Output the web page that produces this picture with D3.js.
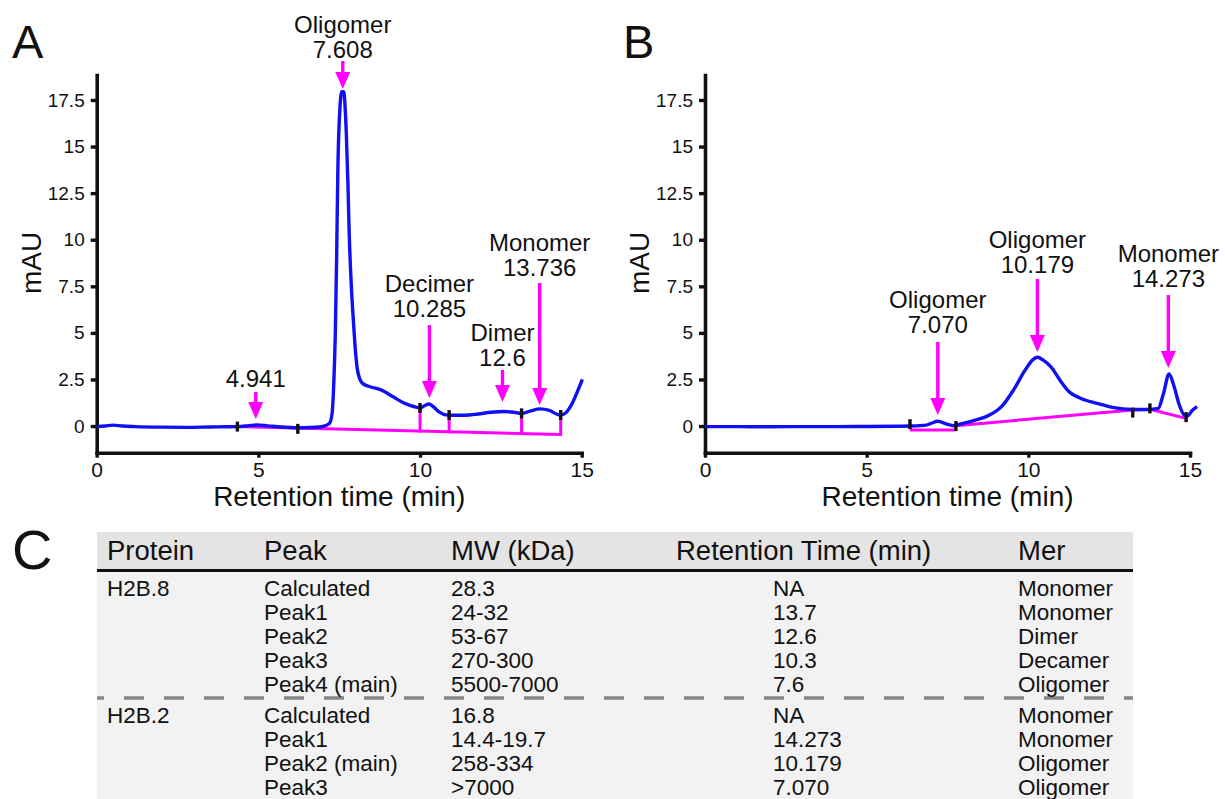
<!DOCTYPE html>
<html>
<head>
<meta charset="utf-8">
<script src="https://cdn.jsdelivr.net/npm/d3@7"></script>
<style>
  html, body { margin: 0; padding: 0; background: #fff; }
  svg { display: block; font-family: "Liberation Sans", Arial, sans-serif; }
</style>
</head>
<body>
<svg id="fig" width="1225" height="799"></svg>
<script>
// ---- panel A : H2B.8 chromatogram (time in min, signal in mAU)
const timeA = [0, 0.25, 0.5, 0.8, 1.2, 2.0, 2.8, 3.5, 4.0, 4.35, 4.7, 4.95, 5.3, 5.7, 6.2, 6.6, 6.95,
  7.1, 7.2, 7.28, 7.33, 7.38, 7.42, 7.46, 7.52, 7.58, 7.64, 7.68, 7.72, 7.77, 7.81, 7.87, 7.93, 7.99,
  8.05, 8.13, 8.22, 8.46, 8.81, 9.17, 9.52, 9.8, 10.0, 10.15, 10.28, 10.4, 10.6, 10.8, 10.95, 11.4,
  11.8, 12.2, 12.6, 12.9, 13.14, 13.4, 13.7, 14.0, 14.2, 14.35, 14.5, 14.7, 14.88, 15.02];
const mauA = [-0.03, 0.0, 0.05, 0.0, -0.03, -0.06, -0.07, -0.05, -0.04, -0.03, 0.02, 0.06, 0.01, -0.05, -0.09, -0.08, -0.04,
  0.04, 0.14, 0.68, 2.2, 4.97, 9.0, 13.9, 17.0, 17.95, 17.95, 17.2, 15.7, 13.0, 10.3, 7.7, 5.87, 4.3,
  3.18, 2.55, 2.29, 2.11, 1.93, 1.57, 1.22, 1.05, 0.97, 1.1, 1.18, 1.05, 0.75, 0.6, 0.58, 0.58,
  0.65, 0.74, 0.78, 0.74, 0.68, 0.8, 0.92, 0.84, 0.66, 0.59, 0.7, 1.2, 1.9, 2.5];
const baselineTimeA = [4.35, 14.35];
const baselineMauA = [-0.03, -0.45];
const dropTimeA = [10.0, 10.9, 13.14, 14.35];
const dropMauA = [0.97, 0.59, 0.68, 0.59];
const markTimeA = [4.35, 6.22, 10.0, 10.9, 13.14, 14.35];
const markMauA = [-0.03, -0.15, 0.97, 0.59, 0.68, 0.59];
const peakTimeA = [4.92, 7.61, 10.29, 12.55, 13.7];
const peakTextA = [["4.941"], ["Oligomer", "7.608"], ["Decimer", "10.285"], ["Dimer", "12.6"], ["Monomer", "13.736"]];
const labelMauA = [2.09, 19.75, 5.85, 3.22, 8.05];
const arrowTopA = [1.83, 19.59, 5.42, 3.01, 7.68];
const arrowTipA = [0.38, 18.09, 1.5, 1.29, 1.13];

// ---- panel B : H2B.2 chromatogram
const timeB = [0, 1, 2, 3, 4, 5, 6, 6.35, 6.84, 7.0, 7.2, 7.45, 7.7, 7.82, 8.31, 8.8, 9.17, 9.54, 9.9,
  10.15, 10.28, 10.46, 10.7, 11.01, 11.26, 11.63, 12.12, 12.6, 13.22, 13.71, 14.02, 14.18, 14.35,
  14.51, 14.67, 14.82, 14.92, 15.06, 15.22];
const mauB = [-0.03, -0.03, -0.04, -0.03, -0.03, -0.02, -0.01, 0.0, 0.05, 0.15, 0.26, 0.12, 0.02, 0.08, 0.29, 0.59, 1.04, 1.93, 3.0,
  3.58, 3.69, 3.54, 3.18, 2.38, 1.84, 1.48, 1.22, 1.0, 0.89, 0.89, 0.95, 1.75, 2.79,
  2.11, 1.13, 0.59, 0.54, 0.82, 1.04];
const flatTimeB = [6.34, 7.76];
const flatMauB = [-0.21, -0.21];
const baselineTimeB = [7.76, 13.23, 13.76, 14.88];
const baselineMauB = [0.02, 0.86, 0.9, 0.41];
const markTimeB = [6.34, 7.76, 13.23, 13.76, 14.88];
const markMauB = [0.1, 0.0, 0.72, 0.95, 0.48];
const peakTimeB = [7.2, 10.28, 14.33];
const peakTextB = [["Oligomer", "7.070"], ["Oligomer", "10.179"], ["Monomer", "14.273"]];
const labelMauB = [4.99, 8.21, 7.46];
const arrowTopB = [4.51, 7.89, 7.03];
const arrowTipB = [0.59, 3.97, 3.11];

const yTicks = [0, 2.5, 5, 7.5, 10, 12.5, 15, 17.5];
const xTicks = [0, 5, 10, 15];

// ---- table C
const tableHeader = ["Protein", "Peak", "MW (kDa)", "Retention Time (min)", "Mer"];
const proteins = ["H2B.8", "H2B.2"];
const h2b8Peak = ["Calculated", "Peak1", "Peak2", "Peak3", "Peak4 (main)"];
const h2b8MW = ["28.3", "24-32", "53-67", "270-300", "5500-7000"];
const h2b8RT = ["NA", "13.7", "12.6", "10.3", "7.6"];
const h2b8Mer = ["Monomer", "Monomer", "Dimer", "Decamer", "Oligomer"];
const h2b2Peak = ["Calculated", "Peak1", "Peak2 (main)", "Peak3"];
const h2b2MW = ["16.8", "14.4-19.7", "258-334", ">7000"];
const h2b2RT = ["NA", "14.273", "10.179", "7.070"];
const h2b2Mer = ["Monomer", "Monomer", "Oligomer", "Oligomer"];

const svg = d3.select("#fig");
const BLUE = "#1010f2", MAG = "#ff00ff", INK = "#111";

function panel(o) {
  const g = svg.append("g");
  const x = d3.scaleLinear().domain([0, 15]).range([o.x0, o.x0 + 485]);
  const y = d3.scaleLinear().domain([-1.43, 18.84]).range([452.7, 75]);

  // axes
  const ya = g.append("g").attr("transform", `translate(${o.x0},0)`)
    .call(d3.axisLeft(y).tickValues(yTicks).tickSize(6).tickSizeOuter(0).tickPadding(6).tickFormat(d => String(d)));
  const xa = g.append("g").attr("transform", "translate(0,452.7)")
    .call(d3.axisBottom(x).tickValues(xTicks).tickSize(5).tickSizeOuter(0).tickFormat(d => String(d)));
  [ya, xa].forEach(a => {
    a.select(".domain").attr("stroke", INK).attr("stroke-width", 3.6).attr("stroke-linecap", "square");
    a.selectAll(".tick line").attr("stroke", INK).attr("stroke-width", 3.4);
    a.selectAll("text").attr("fill", INK).style("font-family", "inherit");
  });
  ya.selectAll("text").style("font-size", "19px");
  xa.selectAll("text").style("font-size", "21px").attr("y", 24.5).attr("dy", null);

  g.append("text").attr("x", (x(0) + x(15)) / 2).attr("y", 506).attr("text-anchor", "middle")
    .style("font-size", "28px").attr("fill", INK).text("Retention time (min)");
  g.append("text").attr("transform", `translate(${o.x0 - 56},263) rotate(-90)`).attr("text-anchor", "middle")
    .style("font-size", "28px").attr("fill", INK).text("mAU");
  g.append("text").attr("x", o.letterX).attr("y", 58).style("font-size", "47px").attr("fill", INK).text(o.letter);

  const line = d3.line().x(d => x(d[0])).y(d => y(d[1]));

  // integration baselines
  o.baselines.forEach(b => {
    g.append("path").datum(d3.zip(b[0], b[1])).attr("d", line)
      .attr("fill", "none").attr("stroke", MAG).attr("stroke-width", 3);
  });
  if (o.drops) {
    const base = d3.scaleLinear().domain(o.baselines[0][0]).range(o.baselines[0][1]);
    g.selectAll(".drop").data(d3.zip(o.drops[0], o.drops[1])).join("line")
      .attr("x1", d => x(d[0])).attr("x2", d => x(d[0]))
      .attr("y1", d => y(d[1])).attr("y2", d => y(base(d[0])) + 1.5)
      .attr("stroke", MAG).attr("stroke-width", 3);
  }

  // trace
  g.append("path").datum(d3.zip(o.time, o.mau))
    .attr("d", line.curve(d3.curveMonotoneX))
    .attr("fill", "none").attr("stroke", BLUE).attr("stroke-width", 3.4).attr("stroke-linejoin", "round");

  // peak boundary markers
  g.selectAll(".mk").data(d3.zip(o.markT, o.markV)).join("rect")
    .attr("x", d => x(d[0]) - 1.7).attr("y", d => y(d[1]) - 5)
    .attr("width", 3.4).attr("height", 10).attr("fill", INK);

  // peak labels and arrows
  o.peakT.forEach((t, i) => {
    const px = x(t), top = y(o.arrowTop[i]), tip = y(o.arrowTip[i]);
    g.append("line").attr("x1", px).attr("x2", px).attr("y1", top).attr("y2", tip - 12)
      .attr("stroke", MAG).attr("stroke-width", 3.4);
    g.append("path").attr("d", `M${px - 7.5},${tip - 17}L${px + 7.5},${tip - 17}L${px},${tip}Z`).attr("fill", MAG);
    const lines = o.peakText[i];
    lines.forEach((s, j) => {
      g.append("text").attr("x", px).attr("y", y(o.labelV[i]) - (lines.length - 1 - j) * 25)
        .attr("text-anchor", "middle").style("font-size", "24px").attr("fill", INK).text(s);
    });
  });
}

panel({ x0: 96.7, letter: "A", letterX: 12, time: timeA, mau: mauA,
  baselines: [[baselineTimeA, baselineMauA]], drops: [dropTimeA, dropMauA],
  markT: markTimeA, markV: markMauA, peakT: peakTimeA, peakText: peakTextA,
  labelV: labelMauA, arrowTop: arrowTopA, arrowTip: arrowTipA });

panel({ x0: 705, letter: "B", letterX: 623, time: timeB, mau: mauB,
  baselines: [[flatTimeB, flatMauB], [baselineTimeB, baselineMauB]],
  markT: markTimeB, markV: markMauB, peakT: peakTimeB, peakText: peakTextB,
  labelV: labelMauB, arrowTop: arrowTopB, arrowTip: arrowTipB });

// ---- table C
const t = svg.append("g");
t.append("text").attr("x", 12).attr("y", 569).style("font-size", "56px").attr("fill", INK).text("C");
t.append("rect").attr("x", 97).attr("y", 532).attr("width", 1036).attr("height", 38).attr("fill", "#e4e4e4");
t.append("rect").attr("x", 97).attr("y", 571).attr("width", 1036).attr("height", 240).attr("fill", "#f2f2f2");
t.append("line").attr("x1", 97).attr("x2", 1133).attr("y1", 570.5).attr("y2", 570.5)
  .attr("stroke", INK).attr("stroke-width", 3.2);
t.append("line").attr("x1", 97).attr("x2", 1133).attr("y1", 698).attr("y2", 698)
  .attr("stroke", "#858585").attr("stroke-width", 3.4).attr("stroke-dasharray", "20 20").attr("stroke-dashoffset", 13);

const headX = d3.scaleOrdinal().domain(tableHeader).range([107, 264, 451, 676, 1018]);
const cellX = d3.scaleOrdinal().domain(tableHeader).range([107, 264, 451, 773, 1018]);
t.selectAll(".hd").data(tableHeader).join("text")
  .attr("x", d => headX(d)).attr("y", 560).style("font-size", "27.5px").attr("fill", INK).text(d => d);

const groups = [
  { name: proteins[0], cols: [h2b8Peak, h2b8MW, h2b8RT, h2b8Mer], row: d3.scaleLinear().domain([0, 1]).range([596, 620]) },
  { name: proteins[1], cols: [h2b2Peak, h2b2MW, h2b2RT, h2b2Mer], row: d3.scaleLinear().domain([0, 1]).range([723, 747]) }
];
groups.forEach(gr => {
  t.append("text").attr("x", cellX("Protein")).attr("y", gr.row(0)).style("font-size", "22.5px").attr("fill", INK).text(gr.name);
  gr.cols.forEach((col, c) => {
    t.selectAll(null).data(col).join("text")
      .attr("x", cellX(tableHeader[c + 1])).attr("y", (d, i) => gr.row(i))
      .style("font-size", "22.5px").attr("fill", INK).text(d => d);
  });
});
</script>
</body>
</html>
